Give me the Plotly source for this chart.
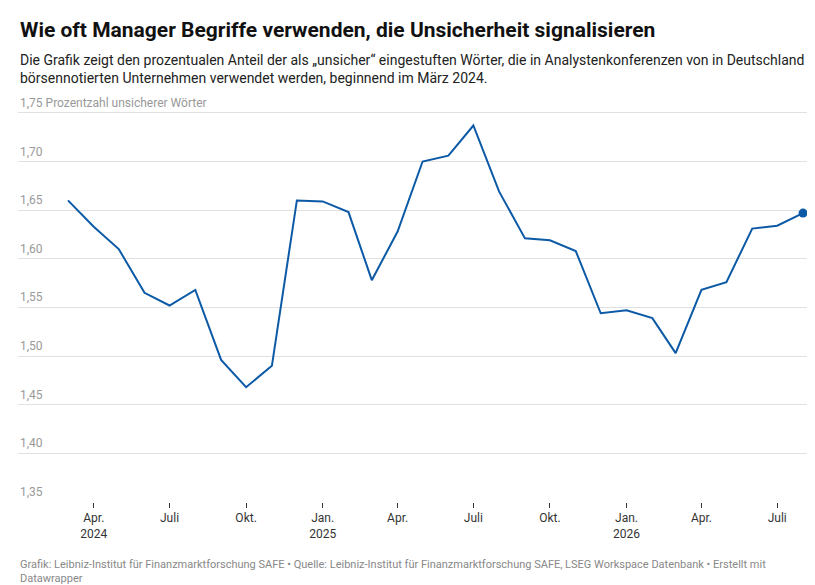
import plotly.graph_objects as go

# Monatswerte März 2024 bis August 2026
monate = ['2024-03', '2024-04', '2024-05', '2024-06', '2024-07', '2024-08', '2024-09', '2024-10',
          '2024-11', '2024-12', '2025-01', '2025-02', '2025-03', '2025-04', '2025-05', '2025-06',
          '2025-07', '2025-08', '2025-09', '2025-10', '2025-11', '2025-12', '2026-01', '2026-02',
          '2026-03', '2026-04', '2026-05', '2026-06', '2026-07', '2026-08']
anteil = [1.660, 1.633, 1.610, 1.565, 1.552, 1.568, 1.496, 1.468, 1.490, 1.660,
          1.659, 1.648, 1.578, 1.628, 1.700, 1.706, 1.737, 1.669, 1.621, 1.619,
          1.608, 1.544, 1.547, 1.539, 1.503, 1.568, 1.576, 1.631, 1.634, 1.647]

y_ticks = [1.35, 1.40, 1.45, 1.50, 1.55, 1.60, 1.65, 1.70, 1.75]
x_ticks = ['2024-04', '2024-07', '2024-10', '2025-01', '2025-04', '2025-07',
           '2025-10', '2026-01', '2026-04', '2026-07']
x_labels = ['Apr.<br>2024', 'Juli', 'Okt.', 'Jan.<br>2025', 'Apr.', 'Juli',
            'Okt.', 'Jan.<br>2026', 'Apr.', 'Juli']

x_dates = [m + '-01' for m in monate]
blau = '#0c5aa6'

fig = go.Figure()
fig.add_trace(go.Scatter(x=x_dates, y=anteil, mode='lines',
                         line=dict(color=blau, width=2), hoverinfo='skip'))
fig.add_trace(go.Scatter(x=[x_dates[-1]], y=[anteil[-1]], mode='markers',
                         marker=dict(color=blau, size=9), hoverinfo='skip'))

# Y-Beschriftung über den Gitterlinien
for t in y_ticks:
    txt = f'{t:.2f}'.replace('.', ',')
    if t == 1.75:
        txt += ' Prozentzahl unsicherer Wörter'
    fig.add_annotation(x=0, xref='paper', y=t, yref='y', text=txt, showarrow=False,
                       xanchor='left', yanchor='bottom', yshift=1,
                       font=dict(size=12, color='#999999'))

fig.update_layout(
    width=815, height=585,
    margin=dict(l=10, r=10, t=100, b=91),
    paper_bgcolor='white', plot_bgcolor='white',
    showlegend=False,
    font=dict(family='Roboto', color='#333333'),
    xaxis=dict(type='date', range=['2024-01-01', '2026-08-13'],
               tickvals=[m + '-01' for m in x_ticks], ticktext=x_labels,
               showgrid=False, showline=False, zeroline=False,
               ticks='outside', ticklen=5, tickcolor='#333333',
               tickfont=dict(size=12, color='#333333')),
    yaxis=dict(range=[1.35, 1.755], tickvals=y_ticks, showticklabels=False,
               gridcolor='#e1e1e1', zeroline=False, showline=False),
)

fig.add_annotation(text='<b>Wie oft Manager Begriffe verwenden, die Unsicherheit signalisieren</b>',
                   x=0, xref='paper', y=1.0, yref='paper', yshift=92,
                   xanchor='left', yanchor='top', showarrow=False,
                   font=dict(size=21, color='#111111'))
fig.add_annotation(text='Die Grafik zeigt den prozentualen Anteil der als „unsicher“ eingestuften Wörter, die in Analystenkonferenzen von in Deutschland<br>börsennotierten Unternehmen verwendet werden, beginnend im März 2024.',
                   x=0, xref='paper', y=1.0, yref='paper', yshift=58,
                   xanchor='left', yanchor='top', showarrow=False, align='left',
                   font=dict(size=14, color='#222222'))
fig.add_annotation(text='Grafik: Leibniz-Institut für Finanzmarktforschung SAFE • Quelle: Leibniz-Institut für Finanzmarktforschung SAFE, LSEG Workspace Datenbank • Erstellt mit<br>Datawrapper',
                   x=0, xref='paper', y=0, yref='paper', yshift=-54,
                   xanchor='left', yanchor='top', showarrow=False, align='left',
                   font=dict(size=11, color='#888888'))

fig.write_html('out.html')
